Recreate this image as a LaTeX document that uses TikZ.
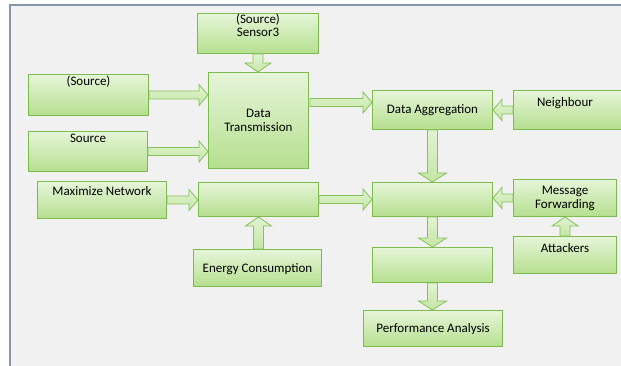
\documentclass[tikz,border=0pt]{standalone}
\usepackage{fontspec}
\setmainfont{Carlito}
\usetikzlibrary{calc}

\definecolor{panelfill}{HTML}{F1F1F1}
\definecolor{panelline}{HTML}{8797AA}
\definecolor{boxtop}{HTML}{E6F5D9}
\definecolor{boxbot}{HTML}{B5DF8F}
\definecolor{boxline}{HTML}{7DBB4D}
\definecolor{arrtop}{HTML}{E2F3D3}
\definecolor{arrbot}{HTML}{C4E6A5}
\definecolor{arrline}{HTML}{86C159}

\tikzset{
  box/.style={draw=boxline, line width=1pt, top color=boxtop, bottom color=boxbot,
              inner sep=0pt, anchor=north west},
  txt/.style={font=\fontsize{13}{14}\selectfont, inner sep=0pt, anchor=base, text=black},
  barrow/.style={draw=arrline, line width=0.8pt, top color=arrtop, bottom color=arrbot,
                 line join=miter},
}

% Block arrow: #1 shaft half-width, #2 head half-width (pt), #3 start, #4 end
\newcommand\blockarrow[4]{%
  \draw[barrow] let \p1=#3, \p2=#4,
      \n1={atan2(\y2-\y1,\x2-\x1)}, \n2={veclen(\x2-\x1,\y2-\y1)} in
    {[shift={(\p1)}, rotate=\n1]
      (0pt,-#1pt) -- ({\n2*1pt-9pt},-#1pt) -- ({\n2*1pt-9pt},-#2pt)
      -- ({\n2*1pt},0pt) -- ({\n2*1pt-9pt},#2pt) -- ({\n2*1pt-9pt},#1pt)
      -- (0pt,#1pt) -- cycle};%
}

\newcommand\boxat[5]{% name, left, top, width, height
  \node[box, minimum width=#4pt, minimum height=#5pt] (#1) at (#2,#3) {};%
}

\begin{document}
\begin{tikzpicture}[x=1pt, y=-1pt]
  \useasboundingbox (0,0) rectangle (621,366);

  % background panel
  \fill[white] (0,0) rectangle (621,366);
  \fill[panelfill] (10,5) rectangle (625,370);
  \draw[panelline, line width=1.2pt] (10,370) -- (10,5) -- (625,5);

  % boxes
  \boxat{sensor}{197}{13}{121}{40}
  \boxat{srcA}{28}{74}{120}{41}
  \boxat{srcB}{28}{131}{119}{40}
  \boxat{trans}{208}{72}{100}{96}
  \boxat{aggr}{372}{90}{120}{39}
  \boxat{neigh}{513}{90}{115}{39}
  \boxat{maxnet}{37}{181}{129}{37}
  \boxat{mid}{198}{182}{120}{34}
  \boxat{energy}{193}{249}{128}{37}
  \boxat{hub}{372}{182}{120}{34}
  \boxat{msg}{513}{179}{103}{37}
  \boxat{attack}{513}{236}{103}{37}
  \boxat{low}{372}{247}{120}{35}
  \boxat{perf}{363}{310}{139}{36}

  % texts
  \node[txt] (tsensorA) at ($(sensor.north)+(0,11)$) {(Source)};
  \node[txt] (tsensorB) at ($(sensor.north)+(0,24)$) {Sensor3};
  \node[txt] (tsrcA) at ($(srcA.north)+(0,12)$) {(Source)};
  \node[txt] (tsrcB) at ($(srcB.north)+(0,12)$) {Source};
  \node[txt] (ttransA) at ($(trans.north)+(0,46)$) {Data};
  \node[txt] (ttransB) at ($(trans.north)+(0,60)$) {Transmission};
  \node[txt] (taggr) at ($(aggr.north)+(0,24)$) {Data Aggregation};
  \node[txt] (tneigh) at ($(neigh.north)+(-6,17)$) {Neighbour};
  \node[txt] (tmaxnet) at ($(maxnet.north)+(0,15)$) {Maximize Network};
  \node[txt] (tenergy) at ($(energy.north)+(0,23)$) {Energy Consumption};
  \node[txt] (tmsgA) at ($(msg.north)+(0,16)$) {Message};
  \node[txt] (tmsgB) at ($(msg.north)+(0,30)$) {Forwarding};
  \node[txt] (tattack) at ($(attack.north)+(0,16)$) {Attackers};
  \node[txt] (tperf) at ($(perf.north)+(0,22)$) {Performance Analysis};

  % connectors
  \blockarrow{5}{13}{(sensor.south)}{(trans.north -| sensor.south)}
  \blockarrow{4}{10.5}{(srcA.east)}{(trans.west |- srcA.east)}
  \blockarrow{4}{10.5}{(srcB.east)}{(trans.west |- srcB.east)}
  \blockarrow{4}{10.5}{($(trans.east)+(1,-18)$)}{($(aggr.west)+(0,-7.5)$)}
  \blockarrow{4}{10.5}{(neigh.west)}{(aggr.east)}
  \blockarrow{5}{14}{(aggr.south)}{(hub.north)}
  \blockarrow{4}{10.5}{(maxnet.east)}{(mid.west |- maxnet.east)}
  \blockarrow{4}{10.5}{(mid.east)}{(hub.west)}
  \blockarrow{5}{13}{(energy.north -| mid.south)}{(mid.south)}
  \blockarrow{4}{10.5}{(msg.west)}{(hub.east |- msg.west)}
  \blockarrow{5}{13}{(attack.north)}{(msg.south)}
  \blockarrow{5}{14}{(hub.south)}{(low.north)}
  \blockarrow{5}{14}{(low.south)}{(perf.north -| low.south)}
\end{tikzpicture}
\end{document}
